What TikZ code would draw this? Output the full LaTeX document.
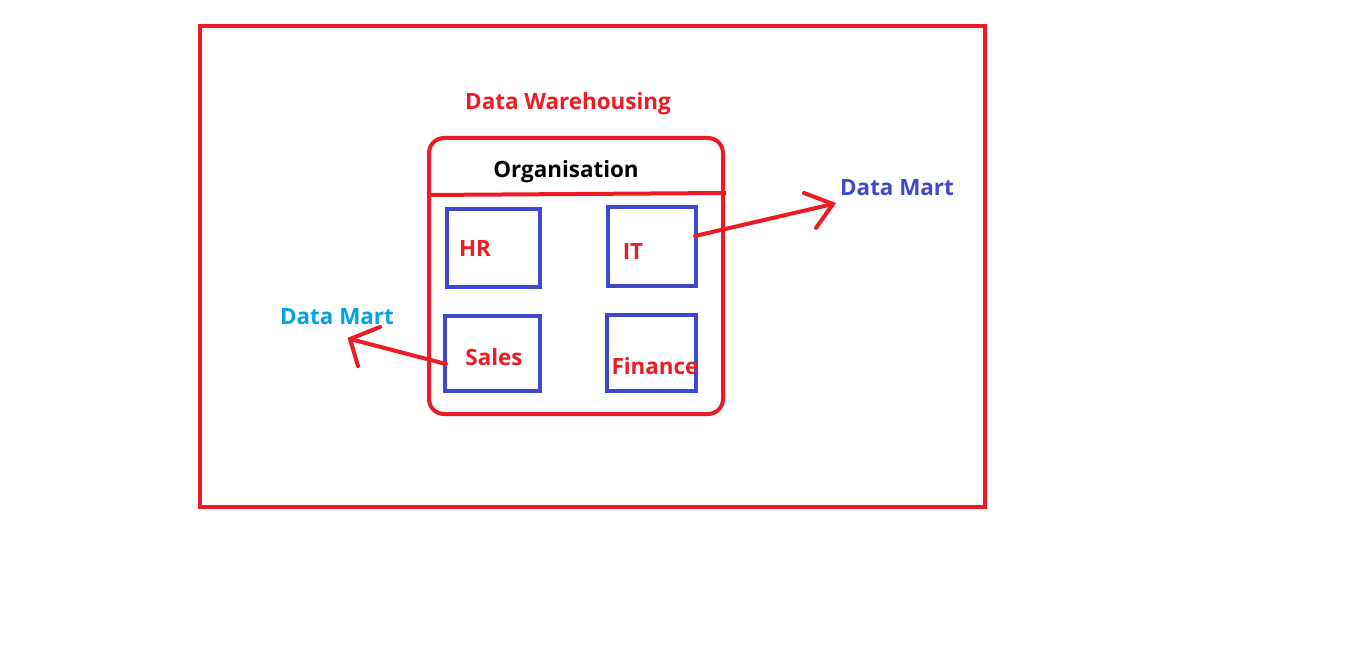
\documentclass[tikz,border=0pt]{standalone}
\usepackage{fontspec}
\setmainfont{Open Sans}
\begin{document}
\begin{tikzpicture}[x=1pt,y=-1pt,
  redline/.style={draw=dwred,line width=4pt},
  bluebox/.style={draw=dwblue,line width=4pt},
  lbl/.style={font=\bfseries\fontsize{22.4}{26}\selectfont,inner sep=0pt},
  arrowline/.style={draw=dwred,line width=4pt,line cap=round}]
\definecolor{dwred}{RGB}{237,28,36}
\definecolor{dwblue}{RGB}{63,72,204}
\definecolor{dwcyan}{RGB}{0,162,232}
\fill[white] (0,0) rectangle (1370,668);
\useasboundingbox (0,0) rectangle (1370,668);
% outer frame
\draw[redline] (200,26) rectangle (985,507);
% organisation rounded box
\draw[redline,rounded corners=15pt] (429,138) rectangle (723,414);
\coordinate (sepL) at (427,195);
\coordinate (sepR) at (726,193);
\draw[redline] (sepL) -- (sepR);
% department boxes
\draw[bluebox] (447,209) rectangle (540,287);
\draw[bluebox] (608,207) rectangle (696,286);
\draw[bluebox] (445,316) rectangle (540,391);
\draw[bluebox] (607,315) rectangle (696,391);
% texts
\node[lbl,text=dwred] (dw) at (568,104) {Data Warehousing};
\node[lbl,text=black] (org) at (566,172) {Organisation};
\node[lbl,text=dwred] (hr) at (475,249) {HR};
\node[lbl,text=dwred] (it) at (633,252) {IT};
\node[lbl,text=dwred] (sales) at (494,357) {Sales};
\node[lbl,text=dwred] (fin) at (655,366) {Finance};
\node[lbl,text=dwblue] (dm1) at (897,188) {Data Mart};
\node[lbl,text=dwcyan] (dm2) at (337,317) {Data Mart};
% arrows
\coordinate (itOut) at (695,236);
\coordinate (tip1) at (833,204);
\coordinate (b1a) at (804,193);
\coordinate (b1b) at (816,228);
\draw[arrowline] (itOut) -- (tip1);
\draw[arrowline] (b1a) -- (tip1) -- (b1b);
\coordinate (salesOut) at (446,364);
\coordinate (tip2) at (350,339);
\coordinate (b2a) at (380,327);
\coordinate (b2b) at (358,366);
\draw[arrowline] (salesOut) -- (tip2);
\draw[arrowline] (b2a) -- (tip2) -- (b2b);
\end{tikzpicture}
\end{document}
